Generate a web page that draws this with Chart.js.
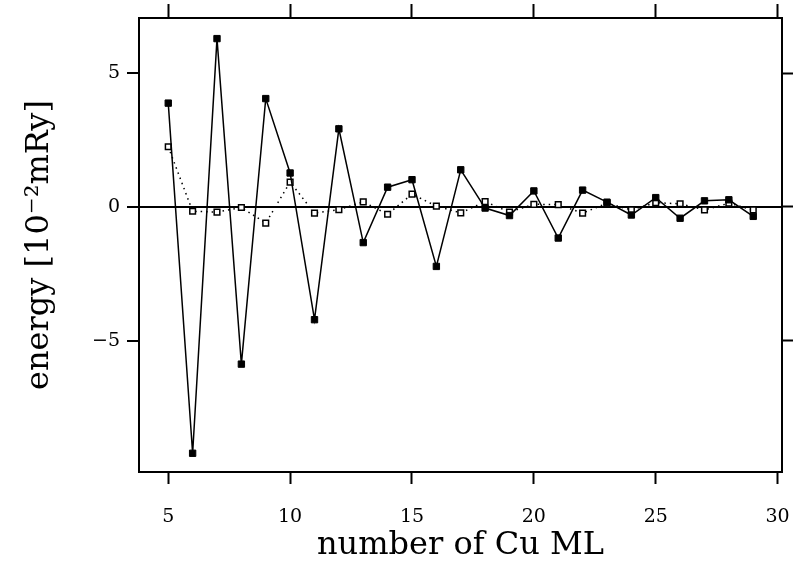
<!DOCTYPE html>
<html>
<head>
<meta charset="utf-8">
<script src="https://cdn.jsdelivr.net/npm/chart.js@4"></script>
<style>
  html, body { margin: 0; padding: 0; background: #fff; }
  #wrap { width: 793px; height: 570px; }
</style>
</head>
<body>
<div id="wrap"><canvas id="energy-chart"></canvas></div>
<script>
// number of Cu monolayers
var cuML = [5, 6, 7, 8, 9, 10, 11, 12, 13, 14, 15, 16, 17, 18, 19, 20, 21, 22, 23, 24, 25, 26, 27, 28, 29];
// filled squares, solid line
var energyFilled = [3.88, -9.2, 6.29, -5.87, 4.05, 1.27, -4.21, 2.92, -1.33, 0.74, 1.02, -2.22, 1.39, -0.04, -0.32, 0.6, -1.16, 0.63, 0.18, -0.3, 0.35, -0.42, 0.23, 0.27, -0.35];
// open squares, dotted line
var energyOpen = [2.25, -0.16, -0.19, -0.02, -0.6, 0.93, -0.23, -0.1, 0.19, -0.27, 0.48, 0.03, -0.22, 0.2, -0.19, 0.1, 0.09, -0.23, 0.14, -0.11, 0.16, 0.12, -0.11, 0.14, -0.11];
var xTicks = [5, 10, 15, 20, 25, 30];
var yTicks = [-5, 0, 5];

var serif = "'DejaVu Serif', serif";

function pts(vals) {
  return cuML.map(function (n, i) { return { x: n, y: vals[i] }; });
}

// fixed axis sizes so the plot box sits where the reference has it
function fixSize(prop, v) {
  return function (axis) {
    axis[prop] = v;
    axis.paddingLeft = 0;
    axis.paddingRight = 0;
    axis.paddingTop = 0;
    axis.paddingBottom = 0;
  };
}

function setTicks(list) {
  return function (axis) { axis.ticks = list.map(function (v) { return { value: v }; }); };
}

new Chart(document.getElementById("energy-chart"), {
  type: "line",
  data: {
    datasets: [
      {
        data: pts(energyFilled),
        borderColor: "#000",
        borderWidth: 1.5,
        pointStyle: "rect",
        pointRadius: 4.5,
        pointBackgroundColor: "#000",
        pointBorderColor: "#000",
        pointBorderWidth: 1,
        tension: 0,
      },
      {
        data: pts(energyOpen),
        borderColor: "#000",
        borderWidth: 1.5,
        borderDash: [1.5, 4],
        pointStyle: "rect",
        pointRadius: 4,
        pointBackgroundColor: "#fff",
        pointBorderColor: "#000",
        pointBorderWidth: 1.5,
        tension: 0,
      },
    ],
  },
  options: {
    responsive: true,
    maintainAspectRatio: false,
    animation: false,
    layout: { padding: 0 },
    plugins: {
      legend: { display: false },
      tooltip: { enabled: false },
    },
    scales: {
      x: {
        type: "linear",
        position: "bottom",
        min: 3.8,
        max: 30.18,
        afterFit: fixSize("height", 98),
        afterBuildTicks: setTicks(xTicks),
        grid: { drawOnChartArea: false, tickLength: 12, tickWidth: 2, tickColor: "#000" },
        border: { display: true, color: "#000", width: 2 },
        ticks: { color: "#000", padding: 22, maxRotation: 0, font: { family: serif, size: 19 } },
        title: {
          display: true,
          text: "number of Cu ML",
          color: "#000",
          padding: { top: 0, bottom: 5 },
          font: { family: serif, size: 32 },
        },
      },
      xTop: {
        type: "linear",
        position: "top",
        min: 3.8,
        max: 30.18,
        afterFit: fixSize("height", 18),
        afterBuildTicks: setTicks(xTicks),
        grid: { drawOnChartArea: false, tickLength: 14, tickWidth: 2, tickColor: "#000" },
        border: { display: true, color: "#000", width: 2 },
        ticks: { display: false },
      },
      y: {
        type: "linear",
        position: "left",
        min: -9.9,
        max: 7.06,
        afterFit: fixSize("width", 139),
        afterBuildTicks: setTicks(yTicks),
        grid: {
          drawOnChartArea: true,
          color: function (c) { return c.tick && c.tick.value === 0 ? "#000" : "rgba(0,0,0,0)"; },
          lineWidth: 2,
          tickLength: 12,
          tickWidth: 2,
          tickColor: "#000",
        },
        border: { display: true, color: "#000", width: 2 },
        ticks: {
          color: "#000",
          padding: 7,
          font: { family: serif, size: 19 },
          callback: function (v) { return v < 0 ? "\u2212" + Math.abs(v) : String(v); },
        },
        title: {
          display: true,
          text: "energy [10\u207B\u00B2mRy]",
          color: "#000",
          padding: { top: 20, bottom: 0 },
          font: { family: serif, size: 32 },
        },
      },
      yRight: {
        type: "linear",
        position: "right",
        min: -9.9,
        max: 7.06,
        afterFit: fixSize("width", 11),
        afterBuildTicks: setTicks(yTicks),
        grid: { drawOnChartArea: false, tickLength: 11, tickWidth: 2, tickColor: "#000" },
        border: { display: true, color: "#000", width: 2 },
        ticks: { display: false },
      },
    },
  },
});
</script>
</body>
</html>
